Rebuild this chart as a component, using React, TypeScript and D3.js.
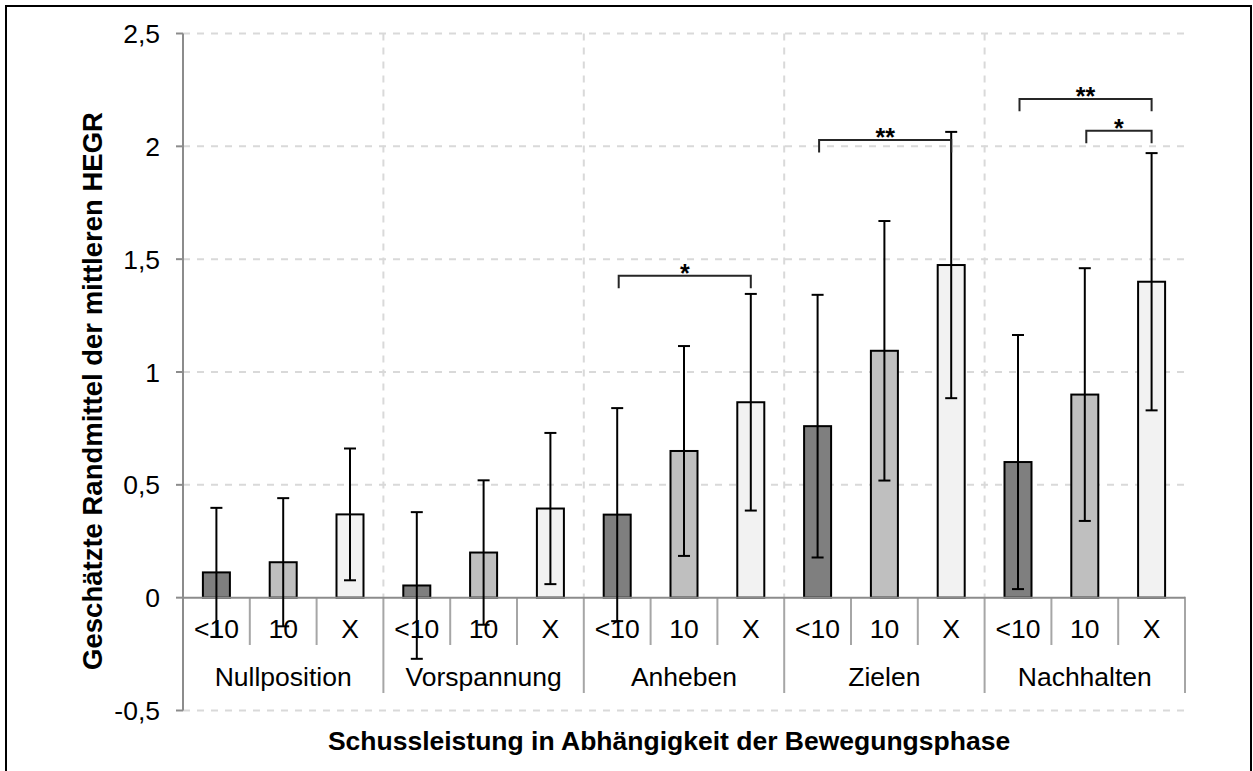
import React from "react";
import * as d3 from "d3";

const phases = ["Nullposition", "Vorspannung", "Anheben", "Zielen", "Nachhalten"];
const levels = ["<10", "10", "X"];
const meansLt10 = [0.112, 0.054, 0.368, 0.76, 0.601];
const means10 = [0.157, 0.2, 0.65, 1.094, 0.9];
const meansX = [0.369, 0.395, 0.866, 1.474, 1.4];
const errLt10 = [0.286, 0.325, 0.472, 0.582, 0.563];
const err10 = [0.284, 0.32, 0.465, 0.575, 0.56];
const errX = [0.292, 0.335, 0.48, 0.59, 0.57];
const yTicks = [-0.5, 0, 0.5, 1, 1.5, 2, 2.5];
const levelFills = ["#7f7f7f", "#bfbfbf", "#f2f2f2"];
// significance brackets: phase, from level, to level, height, label
const sigPhase = ["Anheben", "Zielen", "Nachhalten", "Nachhalten"];
const sigFrom = ["<10", "<10", "<10", "10"];
const sigTo = ["X", "X", "X", "X"];
const sigLevel = [1.426, 2.028, 2.21, 2.069];
const sigLabel = ["*", "**", "**", "*"];

const yTitle = "Geschätzte Randmittel der mittleren HEGR";
const xTitle = "Schussleistung in Abhängigkeit der Bewegungsphase";

const FONT = "'Liberation Sans', Arial, sans-serif";

export default function App() {
  const W = 1253, H = 771;
  const left = 183, right = 1185, top = 33.5, bottom = 710.5;
  const y = d3.scaleLinear().domain([-0.5, 2.5]).range([bottom, top]);
  const xg = d3.scaleBand<string>().domain(phases).range([left, right]).padding(0);
  const xs = d3.scaleBand<string>().domain(levels).range([0, xg.bandwidth()]).padding(0);
  const y0 = y(0);
  const barW = 27;
  const capW = 12;
  const means = [meansLt10, means10, meansX];
  const errs = [errLt10, err10, errX];
  const fmt = (v: number) => (v === 0 ? "0" : String(v).replace(".", ","));
  const cx = (p: string, l: string) => (xg(p) as number) + (xs(l) as number) + xs.bandwidth() / 2;
  const tickLen = (2.069 - 2.019);

  return (
    <svg width={W} height={H} style={{ display: "block", position: "absolute", left: 0, top: 0 }} fontFamily={FONT}>
      <rect x={0} y={0} width={W} height={H} fill="#fff" />
      <rect x={6} y={6} width={1245} height={775} fill="none" stroke="#000" strokeWidth={2} />
      {/* horizontal gridlines */}
      {yTicks.filter((t) => t !== 0).map((t) => (
        <line key={"hg" + t} x1={left} x2={right} y1={y(t)} y2={y(t)} stroke="#d9d9d9" strokeWidth={2} strokeDasharray="7,7" />
      ))}
      {/* vertical gridlines between phases */}
      {phases.slice(1).map((p) => (
        <line key={"vg" + p} x1={xg(p)} x2={xg(p)} y1={top} y2={y0} stroke="#d9d9d9" strokeWidth={2} strokeDasharray="7,7" />
      ))}
      {/* category dividers below axis */}
      {phases.map((p) =>
        levels.slice(1).map((l) => {
          const x = (xg(p) as number) + (xs(l) as number);
          return <line key={"sd" + p + l} x1={x} x2={x} y1={y0} y2={645} stroke="#a6a6a6" strokeWidth={2} />;
        })
      )}
      {phases.slice(1).map((p) => (
        <line key={"gd" + p} x1={xg(p)} x2={xg(p)} y1={y0} y2={693} stroke="#a6a6a6" strokeWidth={2} />
      ))}
      <line x1={right} x2={right} y1={y0 - 1} y2={693} stroke="#a6a6a6" strokeWidth={2} />
      {/* y axis */}
      <line x1={left} x2={left} y1={top} y2={bottom} stroke="#8c8c8c" strokeWidth={2} />
      {yTicks.map((t) => (
        <g key={"yt" + t}>
          <line x1={left - 7} x2={left} y1={y(t)} y2={y(t)} stroke="#8c8c8c" strokeWidth={2} />
          <text x={160} y={y(t)} dy="0.36em" textAnchor="end" fontSize={26.5} fill="#000">{fmt(t)}</text>
        </g>
      ))}
      {/* bars */}
      {phases.map((p, i) =>
        levels.map((l, j) => {
          const c = cx(p, l);
          const v = means[j][i];
          return (
            <rect key={"b" + p + l} x={c - barW / 2} y={y(v)} width={barW} height={y0 - y(v)} fill={levelFills[j]} stroke="#000" strokeWidth={2} />
          );
        })
      )}
      {/* zero axis line */}
      <line x1={left} x2={right} y1={y0} y2={y0} stroke="#8c8c8c" strokeWidth={2} />
      {/* level labels */}
      {phases.map((p) =>
        levels.map((l) => (
          <text key={"ll" + p + l} x={cx(p, l)} y={638} textAnchor="middle" fontSize={26.5} fill="#000">{l}</text>
        ))
      )}
      {phases.map((p) => (
        <text key={"pl" + p} x={(xg(p) as number) + xg.bandwidth() / 2} y={686} textAnchor="middle" fontSize={26.5} fill="#000">{p}</text>
      ))}
      {/* error bars */}
      {phases.map((p, i) =>
        levels.map((l, j) => {
          const c = cx(p, l);
          const v = means[j][i];
          const e = errs[j][i];
          return (
            <g key={"e" + p + l} stroke="#000" strokeWidth={2}>
              <line x1={c} x2={c} y1={y(v + e)} y2={y(v - e)} />
              <line x1={c - capW / 2} x2={c + capW / 2} y1={y(v + e)} y2={y(v + e)} />
              <line x1={c - capW / 2} x2={c + capW / 2} y1={y(v - e)} y2={y(v - e)} />
            </g>
          );
        })
      )}
      {/* significance brackets */}
      {sigPhase.map((p, k) => {
        const x1 = cx(p, sigFrom[k]) + 1.5;
        const x2 = cx(p, sigTo[k]);
        const yl = y(sigLevel[k]);
        const yb = y(sigLevel[k] - tickLen * 1.1);
        return (
          <g key={"s" + k}>
            <path d={`M${x1},${yb}V${yl}H${x2}V${yb}`} fill="none" stroke="#262626" strokeWidth={2} />
            <text x={(x1 + x2) / 2} y={yl + 6} textAnchor="middle" fontSize={25} fontWeight="bold" fill="#000">{sigLabel[k]}</text>
          </g>
        );
      })}
      {/* titles */}
      <text transform={`translate(102,391) rotate(-90)`} textAnchor="middle" fontSize={27.5} fontWeight="bold" fill="#000">{yTitle}</text>
      <text x={669} y={750} textAnchor="middle" fontSize={26.5} fontWeight="bold" fill="#000">{xTitle}</text>
    </svg>
  );
}
